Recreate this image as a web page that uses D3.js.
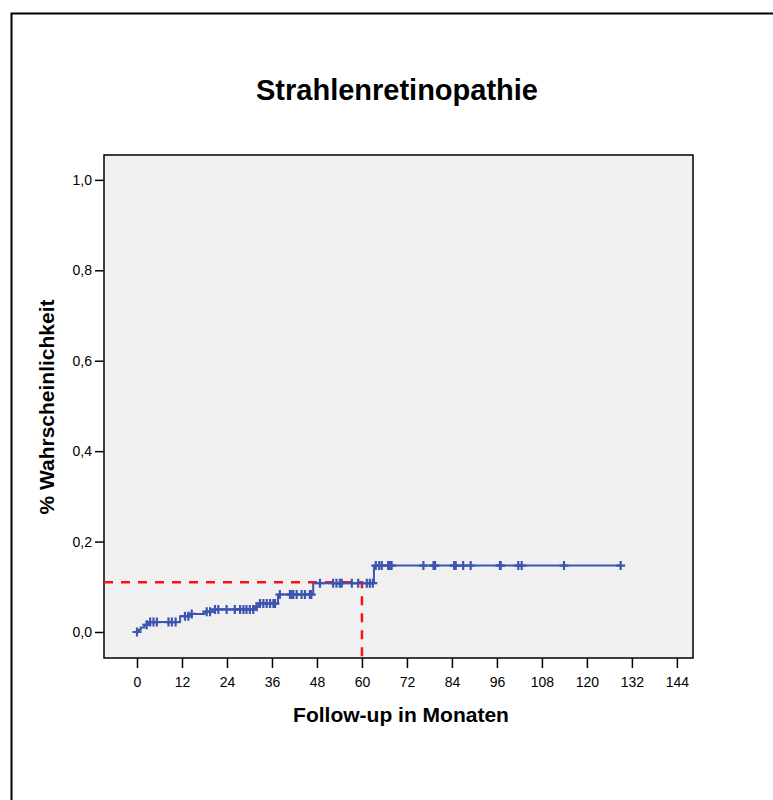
<!DOCTYPE html>
<html>
<head>
<meta charset="utf-8">
<script src="https://cdn.jsdelivr.net/npm/d3@7"></script>
<style>
  body { margin: 0; background: #fff; }
  svg text { font-family: "Liberation Sans", Arial, sans-serif; fill: #000; }
</style>
</head>
<body>
<svg id="chart" width="773" height="800"></svg>
<script>
// event steps of the cumulative curve: [month, probability]
const stepTimes  = [0, 0.5, 1.0, 2.0, 3.0, 11.5, 14.0, 18.0, 20.5, 31.3, 32.5, 37.6, 47.0, 63.2];
const stepValues = [0, 0.005, 0.010, 0.016, 0.022, 0.035, 0.040, 0.045, 0.050, 0.056, 0.063, 0.083, 0.108, 0.147];

// censored cases (months)
const censorTimes = [
  0, 2.6, 3.5, 4.4, 5.3, 8.4, 9.3, 10.3, 12.8, 13.7, 14.6,
  18.6, 19.5, 20.8, 21.7, 23.9, 26.1, 27.5, 28.4, 29.2, 30.1, 31.0,
  31.9, 32.8, 33.7, 34.6, 35.5, 36.4, 36.8, 38.1, 40.8, 41.2, 41.7, 42.6,
  43.9, 44.8, 46.1, 46.5, 48.8, 52.3, 53.2, 54.1, 54.6, 57.3, 59.0,
  61.3, 62.1, 62.9, 63.7, 64.6, 65.3, 67.0, 67.5, 67.9, 76.4, 79.1, 79.5,
  84.6, 85.0, 87.0, 89.0, 96.8, 97.0, 101.7, 102.6, 113.9, 129.0
];
const endTime = 129.0;

// reference lines (60 months -> 0.11)
const refTime = 60;
const refValue = 0.11;

const xTicks = d3.range(0, 145, 12);
const yTicks = [0, 0.2, 0.4, 0.6, 0.8, 1.0];

const svg = d3.select("#chart");
const plot = {left: 104, right: 693, top: 155, bottom: 658};

const x = d3.scaleLinear().domain([-8.8, 148.3]).range([plot.left, plot.right]);
const y = d3.scaleLinear().domain([-0.0575, 1.055]).range([plot.bottom, plot.top]);

// outer frame
svg.append("rect")
  .attr("x", 11.5).attr("y", 13.5)
  .attr("width", 820).attr("height", 820)
  .attr("fill", "none").attr("stroke", "#000").attr("stroke-width", 2);

svg.append("text")
  .attr("x", 397).attr("y", 100)
  .attr("text-anchor", "middle")
  .attr("font-size", 29).attr("font-weight", "bold")
  .text("Strahlenretinopathie");

// plot background
svg.append("rect")
  .attr("x", plot.left).attr("y", plot.top)
  .attr("width", plot.right - plot.left).attr("height", plot.bottom - plot.top)
  .attr("fill", "#f0f0f0");

// axes
const fmt = d => d3.format(".1f")(d).replace(".", ",");
svg.append("g")
  .attr("transform", `translate(${plot.left},0)`)
  .call(d3.axisLeft(y).tickValues(yTicks).tickFormat(fmt).tickSize(9).tickPadding(3))
  .call(g => g.select(".domain").remove())
  .call(g => g.selectAll(".tick line").attr("stroke", "#000").attr("stroke-width", 1.5))
  .call(g => g.selectAll(".tick text").attr("font-size", 14).attr("font-family", "Liberation Sans, Arial, sans-serif"));

svg.append("g")
  .attr("transform", `translate(0,${plot.bottom})`)
  .call(d3.axisBottom(x).tickValues(xTicks).tickSize(10).tickPadding(9))
  .call(g => g.select(".domain").remove())
  .call(g => g.selectAll(".tick line").attr("stroke", "#000").attr("stroke-width", 1.5))
  .call(g => g.selectAll(".tick text").attr("font-size", 14).attr("font-family", "Liberation Sans, Arial, sans-serif"));

// plot frame
svg.append("rect")
  .attr("x", plot.left).attr("y", plot.top)
  .attr("width", plot.right - plot.left).attr("height", plot.bottom - plot.top)
  .attr("fill", "none").attr("stroke", "#000").attr("stroke-width", 1.5);

// reference lines
svg.append("path")
  .attr("d", d3.line()([[plot.left, y(refValue)], [x(refTime), y(refValue)], [x(refTime), plot.bottom]]))
  .attr("fill", "none")
  .attr("stroke", "#ff1010")
  .attr("stroke-width", 2.5)
  .attr("stroke-dasharray", "9,8");

// step curve
const steps = stepTimes.map((t, i) => [t, stepValues[i]]);
steps.push([endTime, stepValues[stepValues.length - 1]]);
const valueAt = t => stepValues[d3.bisectRight(stepTimes, t) - 1];

const blue = "#3d55b0";
svg.append("path")
  .datum(steps)
  .attr("d", d3.line().x(d => x(d[0])).y(d => y(d[1])).curve(d3.curveStepAfter))
  .attr("fill", "none")
  .attr("stroke", blue)
  .attr("stroke-width", 2);

// censor marks
const mark = 4.5;
svg.append("g")
  .selectAll("path")
  .data(censorTimes)
  .join("path")
  .attr("d", t => {
    const cx = x(t), cy = y(valueAt(t));
    return `M${cx - mark},${cy}H${cx + mark}M${cx},${cy - mark}V${cy + mark}`;
  })
  .attr("stroke", blue)
  .attr("stroke-width", 2.2)
  .attr("fill", "none");

// axis titles
svg.append("text")
  .attr("x", 401).attr("y", 722)
  .attr("text-anchor", "middle")
  .attr("font-size", 21).attr("font-weight", "bold")
  .text("Follow-up in Monaten");

svg.append("text")
  .attr("transform", `translate(54,407) rotate(-90)`)
  .attr("text-anchor", "middle")
  .attr("font-size", 21).attr("font-weight", "bold")
  .text("% Wahrscheinlichkeit");
</script>
</body>
</html>
